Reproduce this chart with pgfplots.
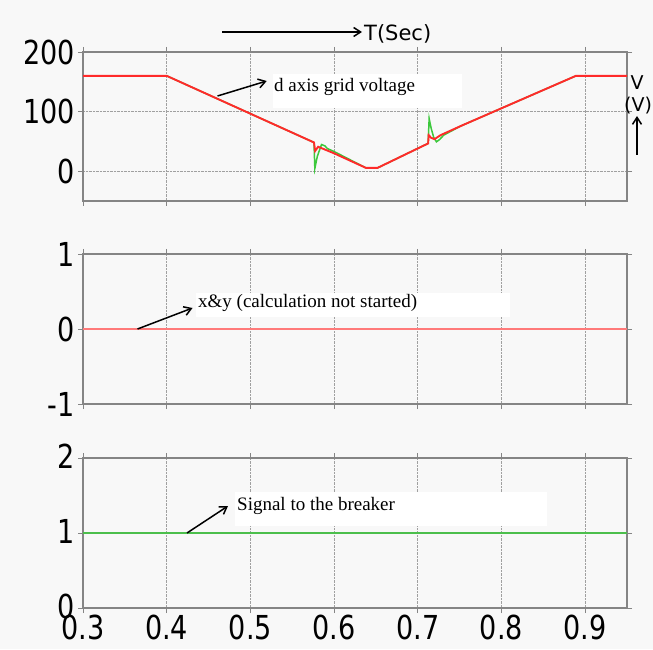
\documentclass[border=0pt]{standalone}
\usepackage{pgfplots}
\pgfplotsset{compat=1.18}
\usetikzlibrary{arrows.meta}
\usepackage{fontspec}
\setmainfont{Liberation Serif}
\newfontfamily\tickfont{DejaVu Sans}[FakeStretch=0.82]
\newfontfamily\labfont{DejaVu Sans}
\definecolor{bg}{HTML}{F8F8F8}
\definecolor{framec}{HTML}{858585}
\definecolor{gridc}{HTML}{A0A0A0}
\definecolor{myred}{HTML}{FF2A2A}
\definecolor{mygreen}{HTML}{3CC83C}
\definecolor{sigreen}{HTML}{4CBF4C}
\definecolor{lightred}{HTML}{FF7A7A}
\pgfplotsset{panel/.style={scale only axis, width=544pt, height=149pt,
  xmin=0.3, xmax=0.95, xtick={0.3,0.4,0.5,0.6,0.7,0.8,0.9},
  grid=major, major grid style={gridc, densely dotted, line width=0.6pt},
  axis line style={framec, line width=1.3pt},
  tick align=outside, major tick length=5pt, tick style={framec, line width=0.8pt},
  ticklabel style={font=\fontsize{33}{36}\tickfont, text=black, inner sep=1pt},
  yticklabel style={xshift=-2pt},
  /pgf/number format/assume math mode=true,
  every axis plot/.append style={no marks, sharp plot}}}
\begin{document}
\begin{tikzpicture}[x=1pt,y=1pt]
\useasboundingbox (0,0) rectangle (653,649);
\fill[bg] (0,0) rectangle (653,649);
% top panel
\begin{axis}[panel, at={(83pt,448pt)}, anchor=south west,
  ymin=-50, ymax=200, ytick={0,100,200}, yticklabels={0,100,200}, xticklabels={}]
\addplot[mygreen, line width=1.5pt] coordinates {
(0.3,160) (0.4,160) (0.576,48.2) (0.577,4.5) (0.580,25) (0.585,44.8) (0.589,42.5) (0.592,38)
(0.6,33) (0.638,5.6) (0.652,5.6) (0.7124,46.6) (0.7136,88.5) (0.716,72) (0.719,57) (0.7223,49.3)
(0.726,53) (0.731,60.5) (0.751,75.6) (0.889,160) (0.95,160)};
\addplot[myred, line width=1.9pt] coordinates {
(0.3,160) (0.4,160) (0.576,48.2) (0.5774,34) (0.581,41) (0.6,30) (0.638,5.6) (0.652,5.6)
(0.7124,46.6) (0.7130,60.5) (0.716,56) (0.72,53.8) (0.7273,60.5) (0.751,75.6) (0.889,160) (0.95,160)};
\end{axis}
% middle panel
\begin{axis}[panel, at={(83pt,245pt)}, anchor=south west, height=150pt,
  ymin=-1, ymax=1, ytick={-1,0,1}, yticklabels={-1,0,1}, xticklabels={}]
\addplot[lightred, line width=1.4pt] coordinates {(0.3,0) (0.95,0)};
\end{axis}
% bottom panel
\begin{axis}[panel, at={(83pt,41pt)}, anchor=south west, height=150pt,
  ymin=0, ymax=2, ytick={0,1,2}, yticklabels={0,1,2},
  xticklabels={0.3,0.4,0.5,0.6,0.7,0.8,0.9},
  xticklabel style={yshift=-1pt},
  yticklabel style={yshift=2pt}]
\addplot[sigreen, line width=1.2pt] coordinates {(0.3,1) (0.95,1)};
\end{axis}
% annotations
\tikzset{arr/.style={line width=1.5pt, -{Straight Barb[length=7pt,width=9pt,line width=1.5pt]}}}
\draw[arr] (222,617) -- (362,617);
\node[anchor=west, inner sep=0, font=\fontsize{21}{24}\labfont] at (364,615) {T(Sec)};
\node[inner sep=0, font=\fontsize{19}{22}\labfont] at (637,566) {V};
\node[inner sep=0, font=\fontsize{19}{22}\labfont] at (638,543) {(V)};
\draw[arr] (637,494) -- (637,533);
\fill[white] (273,541) rectangle (462,575);
\node[anchor=base west, inner sep=0, font=\fontsize{19}{22}\selectfont] at (274,557) {d axis grid voltage};
\draw[arr] (217.5,553) -- (266.7,568);
\fill[white] (196,332) rectangle (510,356);
\node[anchor=base west, inner sep=0, font=\fontsize{19}{22}\selectfont] at (198,342) {x\&y (calculation not started)};
\draw[arr] (137.5,320) -- (192.5,341);
\fill[white] (235,123) rectangle (547,157);
\node[anchor=base west, inner sep=0, font=\fontsize{19}{22}\selectfont] at (237,139) {Signal to the breaker};
\draw[arr] (187,116) -- (228,143);
\end{tikzpicture}
\end{document}
